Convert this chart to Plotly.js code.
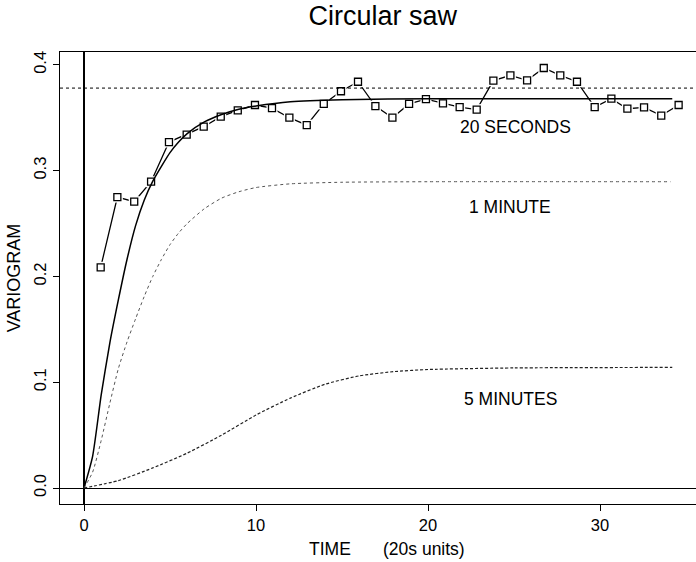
<!DOCTYPE html>
<html>
<head>
<meta charset="utf-8">
<script src="https://cdn.plot.ly/plotly-3.0.1.min.js"></script>
<style>html,body{margin:0;padding:0;background:#fff;}#chart{width:696px;height:562px;}</style>
</head>
<body>
<div id="chart"></div>
<script>
// Empirical variogram, 20-second sampling (open squares)
var lagX = [0.97, 1.94, 2.92, 3.9, 4.94, 5.97, 6.96, 7.95, 8.94, 9.94, 10.93, 11.94, 12.95, 13.94, 14.94, 15.93, 16.94, 17.93, 18.9, 19.88, 20.87, 21.84, 22.83, 23.8, 24.79, 25.76, 26.73, 27.69, 28.66, 29.69, 30.66, 31.59, 32.56, 33.56, 34.57];
var lagY = [0.2086, 0.275, 0.2706, 0.2895, 0.327, 0.334, 0.3415, 0.351, 0.357, 0.362, 0.359, 0.350, 0.343, 0.363, 0.375, 0.384, 0.361, 0.350, 0.363, 0.3676, 0.3636, 0.360, 0.3576, 0.385, 0.390, 0.3853, 0.397, 0.390, 0.384, 0.360, 0.368, 0.3585, 0.3598, 0.352, 0.362];

// Model curve, 20 seconds (solid)
var sec20X = [0, 0.5, 1, 1.5, 2, 2.5, 3, 3.5, 4, 4.5, 5, 5.5, 6, 7, 8, 9, 10, 12, 15, 20, 34.2];
var sec20Y = [0, 0.03, 0.088, 0.137, 0.178, 0.216, 0.248, 0.272, 0.290, 0.304, 0.317, 0.327, 0.335, 0.346, 0.353, 0.358, 0.361, 0.365, 0.367, 0.368, 0.368];

// Model curve, 1 minute (dotted)
var min1X = [0, 0.5, 1, 1.5, 2, 2.5, 3, 3.5, 4, 4.5, 5, 5.5, 6, 7, 8, 9, 10, 12, 15, 20, 34.1];
var min1Y = [0, 0.015, 0.045, 0.08, 0.113, 0.138, 0.16, 0.181, 0.2, 0.216, 0.23, 0.241, 0.25, 0.264, 0.274, 0.28, 0.284, 0.2875, 0.289, 0.2895, 0.2895];

// Model curve, 5 minutes (dashed)
var min5X = [0, 2, 4, 6, 8, 10, 12, 14, 16, 18, 20, 25, 34.2];
var min5Y = [0, 0.007, 0.019, 0.033, 0.05, 0.069, 0.085, 0.098, 0.106, 0.110, 0.112, 0.1135, 0.114];

// Sample variance reference line
var sillValue = [0.378];

// Tick values / labels
var xTicks = [0, 10, 20, 30];
var yTicks = [0.0, 0.1, 0.2, 0.3, 0.4];
var yTickText = ["0.0", "0.1", "0.2", "0.3", "0.4"];

// Curve labels
var labelText = ["20 SECONDS", "1 MINUTE", "5 MINUTES"];
var labelX = [25.09, 24.77, 24.8];
var labelY = [0.341, 0.266, 0.084];

var FONT = '"Liberation Sans", Arial, Helvetica, sans-serif';

var traces = [
  {x: lagX, y: lagY, type: 'scatter', mode: 'lines', line: {color: '#000', width: 1.3}, hoverinfo: 'skip'},
  {x: lagX, y: lagY, type: 'scatter', mode: 'markers', marker: {symbol: 'square', size: 11, color: '#fff', line: {width: 0}}, hoverinfo: 'skip'},
  {x: sec20X, y: sec20Y, type: 'scatter', mode: 'lines', line: {color: '#000', width: 1.5, shape: 'spline', smoothing: 0.6}},
  {x: min1X, y: min1Y, type: 'scatter', mode: 'lines', line: {color: '#555', width: 1, dash: 'dot', shape: 'spline', smoothing: 0.6}},
  {x: min5X, y: min5Y, type: 'scatter', mode: 'lines', line: {color: '#222', width: 1.2, dash: '3px,2px', shape: 'spline', smoothing: 0.6}},
  {x: lagX, y: lagY, type: 'scatter', mode: 'markers', marker: {symbol: 'square-open', size: 7, color: '#000', line: {width: 1.3, color: '#000'}}}
];

var annotations = labelText.map(function (t, i) {
  return {x: labelX[i], y: labelY[i], xref: 'x', yref: 'y', text: t, showarrow: false,
          xanchor: 'center', yanchor: 'middle', font: {family: FONT, size: 17.5, color: '#000'}};
});
annotations.push({x: 14.3, y: -0.099, xref: 'x', yref: 'paper', text: 'TIME', showarrow: false,
  xanchor: 'center', yanchor: 'middle', font: {family: FONT, size: 17.5, color: '#000'}});
annotations.push({x: 19.75, y: -0.099, xref: 'x', yref: 'paper', text: '(20s units)', showarrow: false,
  xanchor: 'center', yanchor: 'middle', font: {family: FONT, size: 17.5, color: '#000'}});

var layout = {
  width: 696, height: 562,
  margin: {l: 60, r: 0, t: 52, b: 58, pad: 0},
  paper_bgcolor: '#fff', plot_bgcolor: '#fff',
  showlegend: false,
  font: {family: FONT, color: '#000'},
  title: {text: 'Circular saw', font: {family: FONT, size: 27, color: '#000'}, x: 0.55, xanchor: 'center', y: 0.972, yanchor: 'middle'},
  xaxis: {
    range: [-1.395, 35.58], showgrid: false,
    zeroline: true, zerolinecolor: '#000', zerolinewidth: 1.2,
    showline: true, linecolor: '#000', linewidth: 1, mirror: true,
    ticks: 'outside', ticklen: 6, tickwidth: 1, tickcolor: '#000',
    tickmode: 'array', tickvals: xTicks,
    tickfont: {family: FONT, size: 16.5, color: '#000'}
  },
  yaxis: {
    range: [-0.0151, 0.4121], showgrid: false,
    zeroline: true, zerolinecolor: '#000', zerolinewidth: 1,
    showline: true, linecolor: '#000', linewidth: 1, mirror: false,
    ticks: 'outside', ticklen: 6, tickwidth: 1, tickcolor: '#000',
    tickmode: 'array', tickvals: yTicks, ticktext: yTickText, tickangle: -90,
    tickfont: {family: FONT, size: 16.5, color: '#000'},
    title: {text: 'VARIOGRAM', font: {family: FONT, size: 18, color: '#000'}, standoff: 6}
  },
  shapes: [{type: 'line', xref: 'paper', x0: 0, x1: 1, yref: 'y', y0: sillValue[0], y1: sillValue[0],
            line: {color: '#000', width: 1, dash: 'dot'}}],
  annotations: annotations
};

Plotly.newPlot('chart', traces, layout, {displayModeBar: false, staticPlot: true});
</script>
</body>
</html>
